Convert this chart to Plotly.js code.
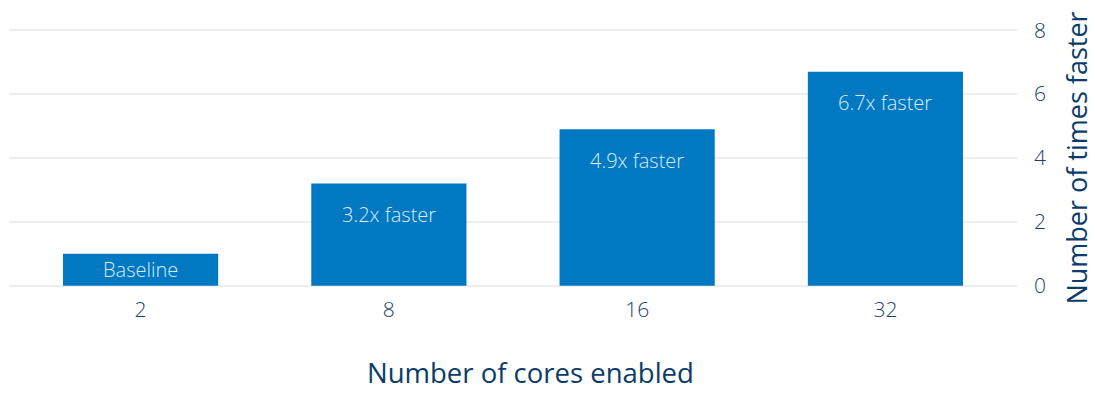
<!DOCTYPE html>
<html><head><meta charset="utf-8">
<script src="https://cdn.plot.ly/plotly-3.0.1.min.js"></script>
<style>html,body{margin:0;padding:0;background:#fff;}#chart{width:1095px;height:393px;}</style>
</head><body><div id="chart"></div>
<script>
const categories = ["2", "8", "16", "32"];
const speedups = [1, 3.2, 4.9, 6.7];
const barLabels = ["Baseline", "3.2x faster", "4.9x faster", "6.7x faster"];
const yTicks = [0, 2, 4, 6, 8];

const FONT = 'Open Sans, sans-serif';
const trace = {
  type: 'bar', x: categories, y: speedups,
  marker: {color: '#0079c2'}, hoverinfo: 'none'
};
// labels placed near the top of each bar (short baseline bar: centred)
const annotations = categories.map((c, i) => {
  const shortBar = speedups[i] < 2;
  return {
    x: i, y: shortBar ? speedups[i] / 2 : speedups[i], xref: 'x', yref: 'y',
    yshift: shortBar ? 0 : -31, yanchor: 'middle', showarrow: false,
    text: barLabels[i], font: {family: FONT, size: 20, color: '#dcebf7', weight: 300}
  };
});
annotations.push({
  xref: 'paper', yref: 'paper', x: 0.517, y: 0, yshift: -83, xanchor: 'center', yanchor: 'middle',
  showarrow: false, text: 'Number of cores enabled',
  font: {family: FONT, size: 27.5, color: '#0b3c6a'}
});
const layout = {
  width: 1095, height: 393,
  margin: {l: 9, r: 78, t: 27, b: 104},
  paper_bgcolor: '#fff', plot_bgcolor: '#fff',
  bargap: 0.375, showlegend: false, annotations: annotations,
  font: {family: FONT, color: '#1d3f66'},
  xaxis: {type: 'category', range: [-0.53, 3.53], showgrid: false, zeroline: false, showline: false,
    ticks: '', ticklabelstandoff: 6, tickfont: {size: 21, color: '#1d3f66', weight: 300}},
  yaxis: {side: 'right', range: [-0.1, 8.1], tickvals: yTicks, showgrid: true, gridcolor: '#eeeeee', gridwidth: 2,
    zeroline: false, showline: false, ticks: '', ticklabelstandoff: 16,
    tickfont: {size: 21, color: '#1d3f66', weight: 300},
    title: {text: 'Number of times faster', font: {size: 27, color: '#0b3c6a'}, standoff: 27}}
};
Plotly.newPlot('chart', [trace], layout, {displayModeBar: false, staticPlot: true});
</script></body></html>
